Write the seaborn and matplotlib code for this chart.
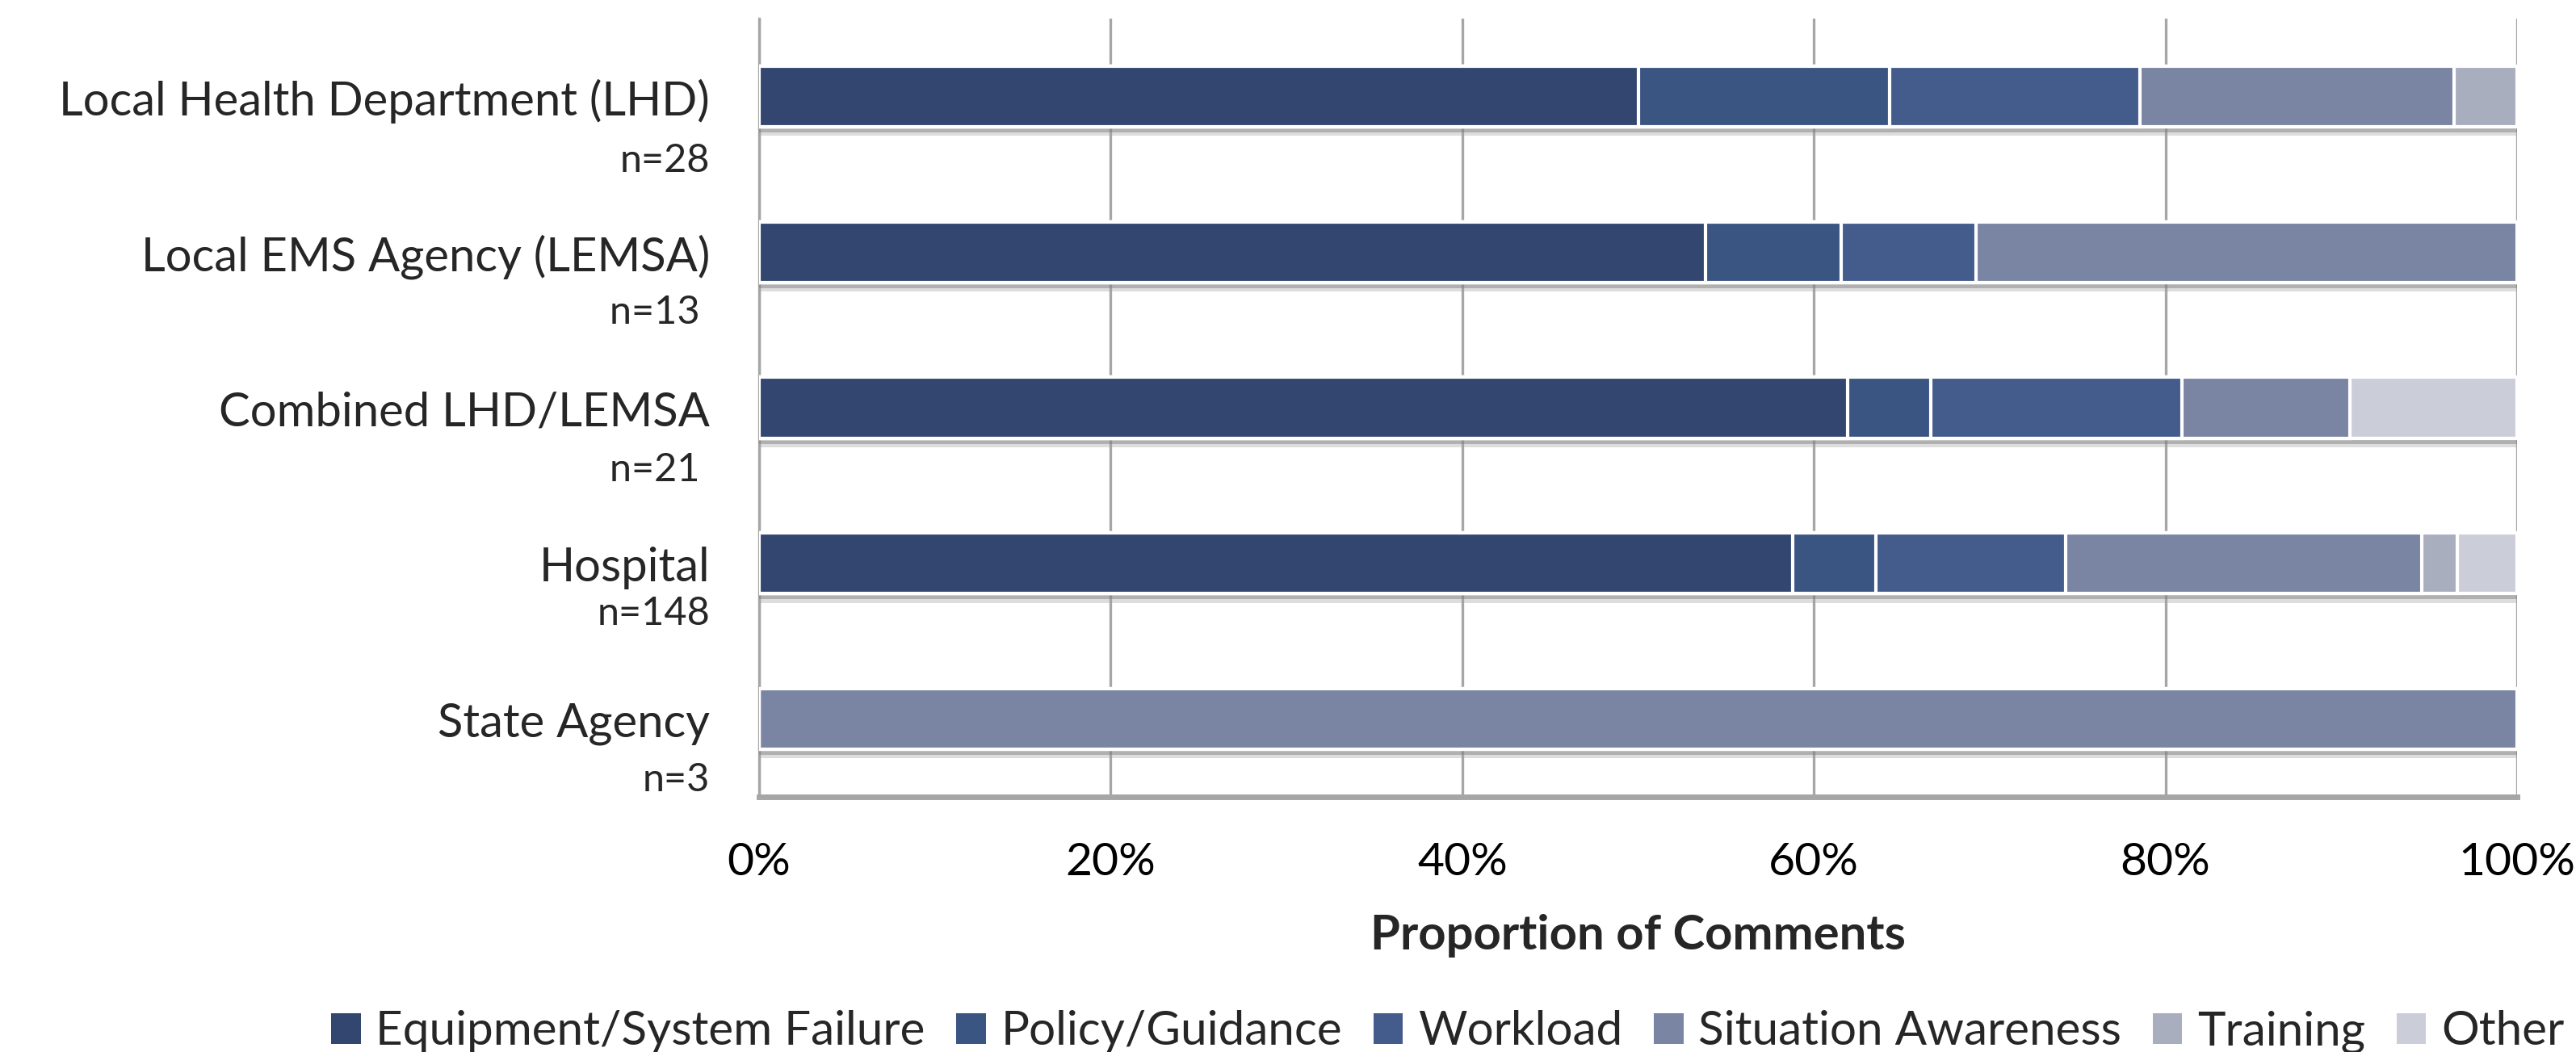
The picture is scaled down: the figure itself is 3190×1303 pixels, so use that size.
#!/usr/bin/env python3
"""
Stacked horizontal bars: proportion of comments by agency type
"""

import matplotlib
matplotlib.use('Agg')
import matplotlib.pyplot as plt
import matplotlib.patheffects as pe
from matplotlib.patches import Patch
from matplotlib.ticker import PercentFormatter
import seaborn as sns
import numpy as np
import pandas as pd

# Data (comment counts per agency type)
AGENCIES = ['Local Health Department (LHD)', 'Local EMS Agency (LEMSA)',
            'Combined LHD/LEMSA', 'Hospital', 'State Agency']
N_LABELS = ['n=28', 'n=13 ', 'n=21 ', 'n=148', 'n=3']
CATEGORIES = ['Equipment/System Failure', 'Policy/Guidance', 'Workload',
              'Situation Awareness', 'Training', 'Other']
equipment = [14, 7, 13, 87, 0]
policy = [4, 1, 1, 7, 0]
workload = [4, 1, 3, 16, 0]
situation = [5, 4, 2, 30, 3]
training = [1, 0, 0, 3, 0]
other = [0, 0, 2, 5, 0]

COLORS = ['#33466F', '#3B5583', '#445C8C', '#7A84A3', '#A9AEBF', '#CBCED9']

# vertical offset of the n= line under each name (category units)
N_OFFSET = [0.38, 0.36, 0.37, 0.29, 0.36]

sns.set_style('white')
plt.rcParams['font.family'] = ['Lato', 'DejaVu Sans']

counts = pd.DataFrame(
    np.array([equipment, policy, workload, situation, training, other]).T,
    index=AGENCIES, columns=CATEGORIES)
share = counts.div(counts.sum(axis=1), axis=0) * 100
cum = share.cumsum(axis=1)

fig = plt.figure(figsize=(15.95, 6.515), dpi=200)
ax = fig.add_axes([0.2947, 0.2425, 0.6824, 0.7398])

# draw cumulative totals back to front so segments appear stacked
for i in range(len(CATEGORIES) - 1, -1, -1):
    df = pd.DataFrame({'agency': AGENCIES, 'value': cum.iloc[:, i].values})
    sns.barplot(data=df, y='agency', x='value', orient='h', color=COLORS[i],
                saturation=1, width=0.39, edgecolor='white', linewidth=1.5,
                ax=ax, zorder=3)
    if i == len(CATEGORIES) - 1:
        for bar in ax.patches:
            bar.set_path_effects([
                pe.SimplePatchShadow(offset=(0, -4), shadow_rgbFace='#a0a0a0', alpha=0.35),
                pe.SimplePatchShadow(offset=(0, -2.5), shadow_rgbFace='#7a7a7a', alpha=0.45),
                pe.Normal()])

ax.set_xlim(0, 100)
ax.set_ylim(4.5, -0.5)
ax.xaxis.set_major_locator(plt.MultipleLocator(20))
ax.xaxis.set_major_formatter(PercentFormatter(decimals=0))
ax.grid(True, axis='x', color='#A6A6A6', linewidth=1.2, zorder=0)
ax.set_axisbelow(True)

for s in ['top', 'right']:
    ax.spines[s].set_visible(False)
ax.spines['left'].set_color('#A6A6A6')
ax.spines['left'].set_linewidth(1.2)
ax.spines['bottom'].set_color('#A6A6A6')
ax.spines['bottom'].set_linewidth(2.5)
ax.spines['bottom'].set_zorder(4)

ax.tick_params(axis='x', length=7, width=1.2, color='#A6A6A6', pad=13,
               labelsize=20.5, labelcolor='black')
ax.set_yticks(np.arange(-0.5, 5, 1.0), minor=True)
ax.tick_params(axis='y', which='minor', length=6, width=1.2, color='#A6A6A6')
ax.set_yticks([])
ax.set_ylabel('')
ax.set_xlabel('Proportion of Comments', fontsize=21.5, fontweight='bold', labelpad=14)

# category names with their n= counts underneath
trans = ax.get_yaxis_transform()
for i, (name, nlab) in enumerate(zip(AGENCIES, N_LABELS)):
    ax.text(-0.028, i + 0.03, name, transform=trans, ha='right', va='center',
            fontsize=20.9)
    ax.text(-0.028, i + 0.03 + N_OFFSET[i], nlab, transform=trans, ha='right',
            va='center', fontsize=17.5)

handles = [Patch(facecolor=c, edgecolor='none', label=l) for c, l in zip(COLORS, CATEGORIES)]
fig.legend(handles=handles, loc='center left', bbox_to_anchor=(0.1285, 0.019),
           ncol=6, frameon=False, fontsize=21, handlelength=0.63, handleheight=0.62,
           handletextpad=0.32, columnspacing=0.66, borderaxespad=0, borderpad=0)

plt.savefig('out.png', dpi=200)
plt.close()
